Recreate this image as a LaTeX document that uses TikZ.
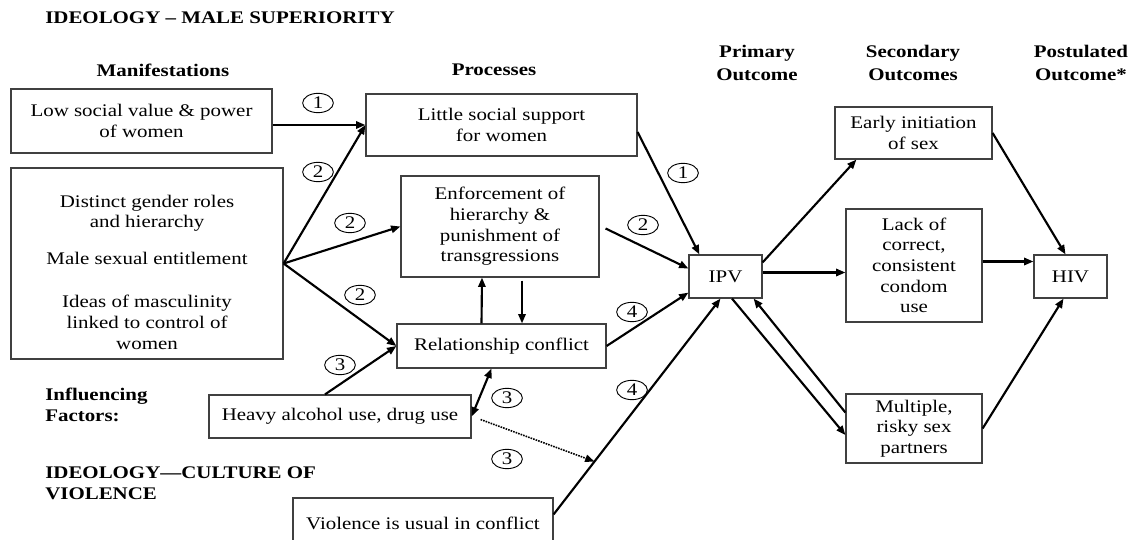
\documentclass[tikz,border=0pt]{standalone}
\usepackage{fontspec}
\setmainfont{Liberation Serif}[FakeStretch=1.18]
\usetikzlibrary{arrows.meta, calc, shapes.geometric}
\newcommand{\diagfont}{\fontsize{13.3}{15.5}\selectfont}

\begin{document}
\begin{tikzpicture}[x=0.75pt, y=-0.75pt,
  box/.style n args={2}{draw=black!75, line width=0.9pt, fill=white,
               minimum width=#1*0.75pt, minimum height=#2*0.75pt,
               align=center, font=\diagfont, inner sep=0pt},
  hdr/.style={font=\diagfont\bfseries, align=center, inner sep=0pt},
  num/.style={ellipse, draw, line width=0.7pt, inner sep=0pt,
              minimum width=23pt, minimum height=14.5pt, font=\diagfont},
  arr/.style={-{Triangle[length=7pt,width=5.5pt]}, line width=1.6pt},
  dbl/.style={{Triangle[length=7pt,width=5.5pt]}-{Triangle[length=7pt,width=5.5pt]}, line width=1.6pt},
  dots/.style={-{Triangle[length=7pt,width=5.5pt]}, line width=1.2pt, dash pattern=on 1.2pt off 0.8pt},
]
\useasboundingbox (0,0) rectangle (1131,539);

%% Headings
\node[hdr, anchor=west] (title) at (45,18) {IDEOLOGY – MALE SUPERIORITY};
\node[hdr] (hmanif) at (163,70) {Manifestations};
\node[hdr] (hproc) at (494,70) {Processes};
\node[hdr] (hprim) at (757,63) {Primary\\[2pt]Outcome};
\node[hdr] (hsec) at (913,63) {Secondary\\[2pt]Outcomes};
\node[hdr] (hpost) at (1081,63) {Postulated\\[2pt]Outcome*};
\node[hdr, anchor=west, align=left] (hinfl) at (45,405) {Influencing\\Factors:};
\node[hdr, anchor=west, align=left] (hcult) at (45,483) {IDEOLOGY—CULTURE OF\\VIOLENCE};

%% Manifestations
\node[box={261}{64}] (low) at (141.5,121) {Low social value \& power\\of women};
\node[box={272}{191}] (ideas) at (147,263.5) {};
\node[align=center, font=\diagfont, inner sep=0pt] (ideastext) at (147,272)
  {Distinct gender roles\\and hierarchy\\[12pt]Male sexual entitlement\\[17pt]Ideas of masculinity\\linked to control of\\women};

%% Processes
\node[box={271}{62}] (little) at (501.5,125) {Little social support\\for women};
\node[box={198}{101}] (enforce) at (500,226.5) {Enforcement of\\hierarchy \&\\punishment of\\transgressions};
\node[box={209}{44}] (conflict) at (501.5,346) {Relationship conflict};

%% Influencing factors
\node[box={262}{43}] (alcohol) at (340,416.5) {Heavy alcohol use, drug use};
\node[box={260}{50}] (violence) at (423,523) {Violence is usual in conflict};

%% Outcomes
\node[box={73}{43}] (ipv) at (725.5,276.5) {IPV};
\node[box={157}{52}] (early) at (913.5,133) {Early initiation\\of sex};
\node[box={136}{113}] (lack) at (914,265.5) {Lack of\\correct,\\consistent\\condom\\use};
\node[box={136}{69}] (multi) at (914,428.5) {Multiple,\\risky sex\\partners};
\node[box={73}{43}] (hiv) at (1070.5,276.5) {HIV};

%% Manifestations -> processes
\draw[arr] (low.east |- little.west) -- (little.west);
\draw[arr] (ideas.east) -- (little.west);
\draw[arr] (ideas.east) -- (enforce.west);
\draw[arr] (ideas.east) -- (conflict.west);
\draw[arr] ($(alcohol.north)+(-15,0)$) -- (conflict.west);
\draw[dbl] (alcohol.east) -- ($(conflict.south)+(-10,0)$);
\draw[arr] ($(conflict.north)+(-20,0)$) -- ($(enforce.south)+(-18,0)$);
\draw[arr] ($(enforce.south)+(22,3)$) -- ($(conflict.north)+(20.5,0)$);

%% Processes -> IPV
\draw[arr] ($(little.east)+(0,7)$) -- ($(ipv.north west)+(11,0)$);
\draw[arr] ($(enforce.east)+(6,2)$) -- ($(ipv.west)+(0,-8)$);
\draw[arr] (conflict.east) -- ($(ipv.south west)+(0,-6)$);
\draw[arr] ($(violence.north east)+(0,17)$) -- ($(ipv.south)+(-5,0)$)
  coordinate[pos=0.245] (hit);
\draw[dots] ($(alcohol.east)+(9,3)$) -- (hit);

%% IPV -> outcomes
\draw[arr] ($(ipv.north east)+(0,8)$) -- ($(early.south west)+(22,0)$);
\draw[arr] ([yshift=3pt]ipv.east) -- ([yshift=3pt]ipv.east -| lack.west);
\draw[arr] ($(ipv.south)+(6.5,0)$) -- ($(multi.west)+(0,6.5)$);
\draw[arr] ($(multi.west)+(0,-16)$) -- ($(ipv.south east)+(-9,0)$);
\draw[arr] (early.east) -- ($(hiv.north)+(-5,0)$);
\draw[arr] ([yshift=3pt]lack.east) -- ([yshift=3pt]lack.east -| hiv.west);
\draw[arr] (multi.east) -- ($(hiv.south)+(-7,0)$);

%% Pathway numbers
\node[num] (n1a) at (318,103) {1};
\node[num] (n2a) at (318,172) {2};
\node[num] (n2b) at (350,223) {2};
\node[num] (n2c) at (360,295) {2};
\node[num] (n3a) at (340,365) {3};
\node[num] (n3b) at (507,398) {3};
\node[num] (n3c) at (507,459) {3};
\node[num] (n1b) at (683,173) {1};
\node[num] (n2d) at (643,225) {2};
\node[num] (n4a) at (632,312) {4};
\node[num] (n4b) at (632,390) {4};
\end{tikzpicture}
\end{document}
